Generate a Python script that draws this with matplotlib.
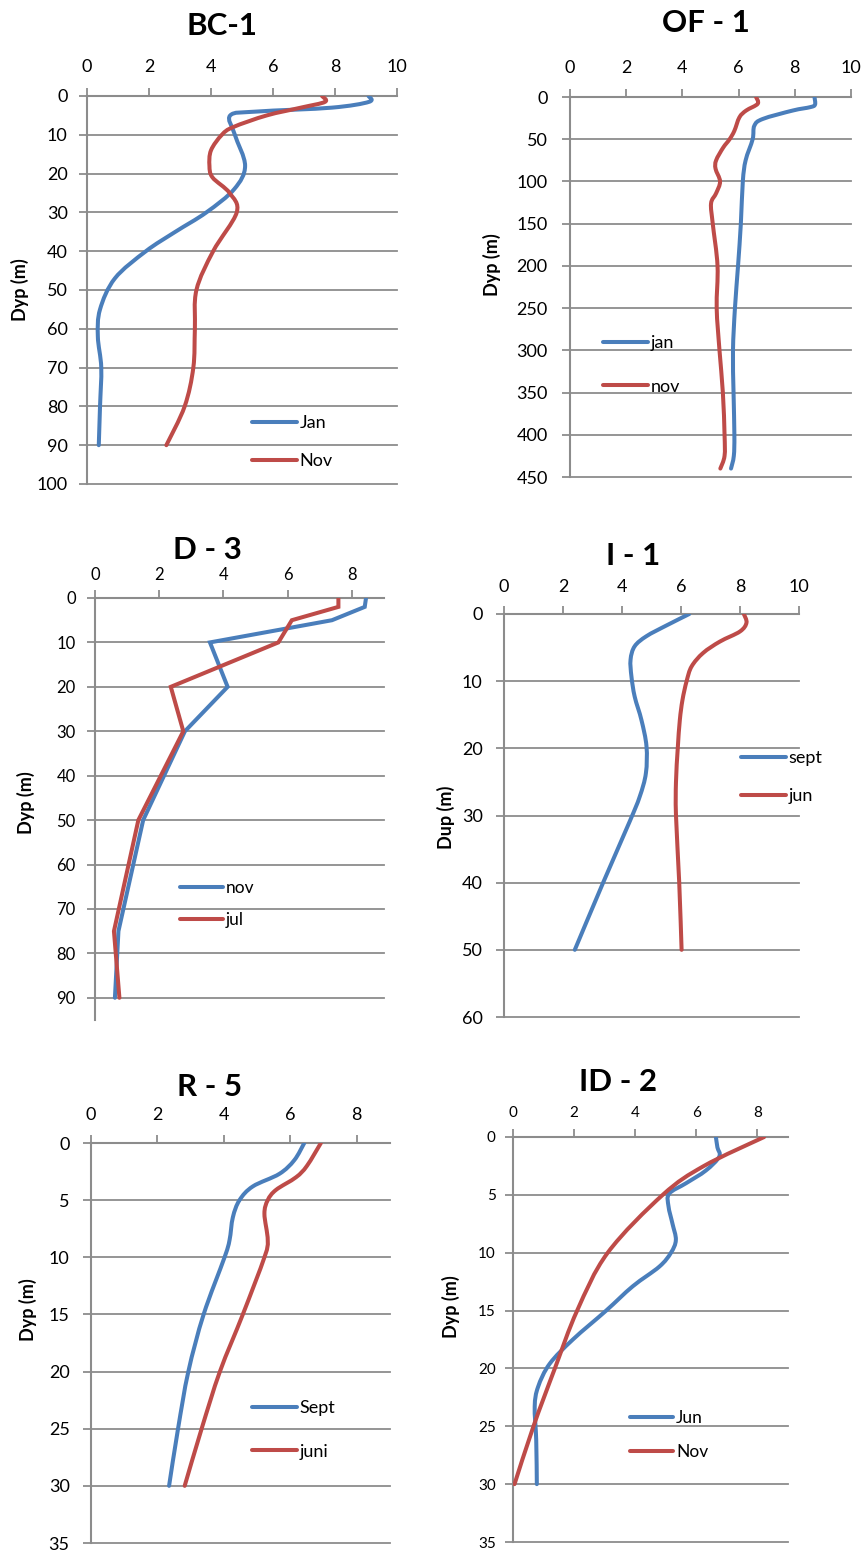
import numpy as np
import matplotlib
matplotlib.use('Agg')
import matplotlib.pyplot as plt
from matplotlib.path import Path
from matplotlib.patches import PathPatch
from matplotlib.lines import Line2D

plt.rcParams['font.family'] = ['Lato', 'DejaVu Sans']

# ---------------- data ----------------
# BC-1
bc1_jan_depth = [0, 1.5, 3, 4, 5, 10, 18, 24, 30, 35, 40, 47, 55, 62, 70, 80, 90]
bc1_jan_val = [9.08, 9.1, 7.9, 5.5, 4.62, 4.77, 5.1, 4.75, 3.85, 2.85, 1.9, 0.9, 0.42, 0.35, 0.46, 0.42, 0.38]
bc1_nov_depth = [0, 1.5, 3, 5, 8, 10, 14, 18, 21, 25, 30, 40, 50, 60, 70, 80, 90]
bc1_nov_val = [7.58, 7.68, 6.9, 5.8, 4.72, 4.35, 4.0, 3.95, 4.05, 4.6, 4.83, 4.07, 3.53, 3.48, 3.43, 3.15, 2.56]

# OF-1
of1_jan_depth = [0, 9, 12, 16, 26, 34, 50, 75, 100, 150, 200, 250, 300, 350, 400, 425, 440]
of1_jan_val = [8.7, 8.72, 8.55, 7.93, 6.86, 6.56, 6.5, 6.25, 6.15, 6.08, 5.98, 5.87, 5.8, 5.82, 5.85, 5.83, 5.73]
of1_nov_depth = [0, 8, 16, 24, 40, 50, 60, 75, 85, 100, 114, 126, 150, 200, 250, 300, 350, 400, 425, 440]
of1_nov_val = [6.62, 6.68, 6.27, 6.03, 5.85, 5.68, 5.45, 5.2, 5.18, 5.34, 5.2, 5.02, 5.08, 5.25, 5.22, 5.32, 5.44, 5.5, 5.5, 5.35]

# D-3 (straight segments)
d3_nov_depth = [0, 2, 5, 10, 20, 30, 50, 75, 90]
d3_nov_val = [8.44, 8.4, 7.38, 3.58, 4.13, 2.8, 1.5, 0.73, 0.62]
d3_jul_depth = [0, 2, 5, 10, 20, 30, 50, 75, 90]
d3_jul_val = [7.58, 7.58, 6.13, 5.71, 2.36, 2.75, 1.35, 0.59, 0.76]

# I-1
i1_sept_depth = [0, 1.7, 3.3, 4.8, 6.8, 9.3, 12.3, 15.8, 19.7, 23.7, 27.2, 31, 40, 50]
i1_sept_val = [6.28, 5.51, 4.83, 4.43, 4.29, 4.32, 4.43, 4.66, 4.83, 4.81, 4.6, 4.25, 3.36, 2.4]
i1_jun_depth = [0, 1.3, 2.6, 4.1, 5.8, 7.8, 10, 12.8, 15.8, 20, 25, 30, 40, 50]
i1_jun_val = [8.13, 8.22, 8.0, 7.32, 6.75, 6.36, 6.19, 6.05, 5.96, 5.89, 5.83, 5.83, 5.94, 6.02]

# R-5
r5_sept_depth = [0, 1.5, 2.7, 3.8, 5, 6.5, 8.5, 10, 15, 20, 25, 30]
r5_sept_val = [6.42, 6.12, 5.67, 4.87, 4.47, 4.27, 4.17, 4.02, 3.39, 2.93, 2.62, 2.35]
r5_juni_depth = [0, 2, 3, 4.1, 5, 6.2, 8.5, 10, 15, 20, 25, 30]
r5_juni_val = [6.92, 6.5, 6.17, 5.57, 5.32, 5.22, 5.32, 5.22, 4.57, 3.88, 3.33, 2.82]

# ID-2
id2_jun_depth = [0, 0.9, 1.7, 2.9, 4, 4.9, 6, 7.5, 8.9, 10, 11.2, 12.9, 15, 17.5, 19.6, 21.6, 23.3, 26.2, 30]
id2_jun_val = [6.64, 6.69, 6.75, 6.31, 5.66, 5.11, 5.09, 5.22, 5.33, 5.17, 4.79, 3.92, 3.05, 1.96, 1.2, 0.82, 0.71, 0.76, 0.78]
id2_nov_depth = [0, 2.5, 5, 10, 15, 20, 25, 30]
id2_nov_val = [8.22, 6.25, 4.9, 3.1, 2.1, 1.37, 0.67, 0.05]

# ---------------- style ----------------
BLUE = '#4A7EBB'
RED = '#BE4B48'
GRID = '#8C8C8C'
LW = 2.9
W, H = 866, 1553
PX = 72 / 100.0  # points per pixel at dpi 100

fig = plt.figure(figsize=(W / 100, H / 100), dpi=100)


def smooth_path(x, y):
    pts = np.column_stack([x, y]).astype(float)
    n = len(pts)
    verts = [pts[0]]
    codes = [Path.MOVETO]
    for i in range(n - 1):
        p0 = pts[i - 1] if i > 0 else pts[i]
        p1 = pts[i]
        p2 = pts[i + 1]
        p3 = pts[i + 2] if i + 2 < n else pts[i + 1]
        c1 = p1 + (p2 - p0) / 6.0
        c2 = p2 - (p3 - p1) / 6.0
        verts += [c1, c2, p2]
        codes += [Path.CURVE4] * 3
    return Path(verts, codes)


def panel(box, title, title_xy, ylab, ylab_xy, xmax, xticks, ymax, yticks,
          series, smooth, leg_xy, leg_spacing, tick_fs, xpad, ypad, leg_fs=13):
    l, t, r, b = box
    ax = fig.add_axes([l / W, 1 - b / H, (r - l) / W, (b - t) / H])
    ax.set_xlim(0, xmax)
    ax.set_ylim(ymax, 0)
    ax.xaxis.tick_top()
    ax.set_xticks(xticks)
    ax.set_yticks(yticks)
    for yv in yticks:
        if yv == 0:
            continue
        ax.axhline(yv, color=GRID, lw=1.3, zorder=1, clip_on=False)
    for s in ['right', 'bottom']:
        ax.spines[s].set_visible(False)
    for s in ['top', 'left']:
        ax.spines[s].set_color(GRID)
        ax.spines[s].set_linewidth(1.5)
    ax.tick_params(axis='x', direction='out', color=GRID, length=6, width=1.3,
                   labelsize=tick_fs, pad=xpad * PX, labelcolor='black')
    ax.tick_params(axis='y', direction='out', color=GRID, length=6, width=1.3,
                   labelsize=tick_fs, pad=ypad * PX, labelcolor='black')
    handles = []
    labels = []
    for vals, depths, color, lab in series:
        if smooth:
            patch = PathPatch(smooth_path(vals, depths), facecolor='none', edgecolor=color,
                              lw=LW, capstyle='round', joinstyle='round', zorder=3)
            ax.add_patch(patch)
        else:
            ax.plot(vals, depths, color=color, lw=LW, solid_capstyle='round',
                    solid_joinstyle='miter', zorder=3)
        handles.append(Line2D([], [], color=color, lw=LW, solid_capstyle='round'))
        labels.append(lab)
    ax.legend(handles, labels, loc='center left',
              bbox_to_anchor=(leg_xy[0] / W, 1 - leg_xy[1] / H),
              bbox_transform=fig.transFigure, frameon=False, fontsize=leg_fs,
              handlelength=2.5, handletextpad=0.15, borderpad=0, borderaxespad=0,
              labelspacing=leg_spacing)
    fig.text(title_xy[0] / W, 1 - title_xy[1] / H, title, ha='center', va='center',
             fontsize=22.5, fontweight='bold')
    fig.text(ylab_xy[0] / W, 1 - ylab_xy[1] / H, ylab, ha='center', va='center',
             rotation=90, fontsize=13, fontweight='bold')
    return ax


panel((87, 96, 397, 484), 'BC-1', (222, 26), 'Dyp (m)', (20, 290),
      10, range(0, 11, 2), 100, range(0, 101, 10),
      [(bc1_jan_val, bc1_jan_depth, BLUE, 'Jan'), (bc1_nov_val, bc1_nov_depth, RED, 'Nov')],
      True, (252, 442), 1.2, 13, 13, 11)

panel((570, 97, 851, 477), 'OF - 1', (706, 23), 'Dyp (m)', (492, 265),
      10, range(0, 11, 2), 450, range(0, 451, 50),
      [(of1_jan_val, of1_jan_depth, BLUE, 'jan'), (of1_nov_val, of1_nov_depth, RED, 'nov')],
      True, (603, 365), 1.5, 13, 13, 14)

panel((95, 598, 384, 1020), 'D - 3', (207, 550), 'Dyp (m)', (26, 803),
      9, range(0, 9, 2), 95, range(0, 91, 10),
      [(d3_nov_val, d3_nov_depth, BLUE, 'nov'), (d3_jul_val, d3_jul_depth, RED, 'jul')],
      False, (180, 904), 0.95, 12, 7, 11, leg_fs=12.5)

panel((504, 614, 799, 1017), 'I - 1', (633, 556), 'Dup (m)', (446, 817),
      10, range(0, 11, 2), 60, range(0, 61, 10),
      [(i1_sept_val, i1_sept_depth, BLUE, 'sept'), (i1_jun_val, i1_jun_depth, RED, 'jun')],
      True, (741, 777), 1.2, 13, 11, 13)

panel((91, 1143, 390, 1543), 'R - 5', (210, 1087), 'Dyp (m)', (28, 1310),
      9, range(0, 9, 2), 35, range(0, 36, 5),
      [(r5_sept_val, r5_sept_depth, BLUE, 'Sept'), (r5_juni_val, r5_juni_depth, RED, 'juni')],
      True, (252, 1430), 1.5, 13, 12, 13)

panel((513, 1137, 788, 1542), 'ID - 2', (618, 1082), 'Dyp (m)', (451, 1307),
      9, range(0, 9, 2), 35, range(0, 36, 5),
      [(id2_jun_val, id2_jun_depth, BLUE, 'Jun'), (id2_nov_val, id2_nov_depth, RED, 'Nov')],
      True, (630, 1435), 1.0, 11, 9, 9, leg_fs=12.5)

fig.savefig('out.png', dpi=100)
